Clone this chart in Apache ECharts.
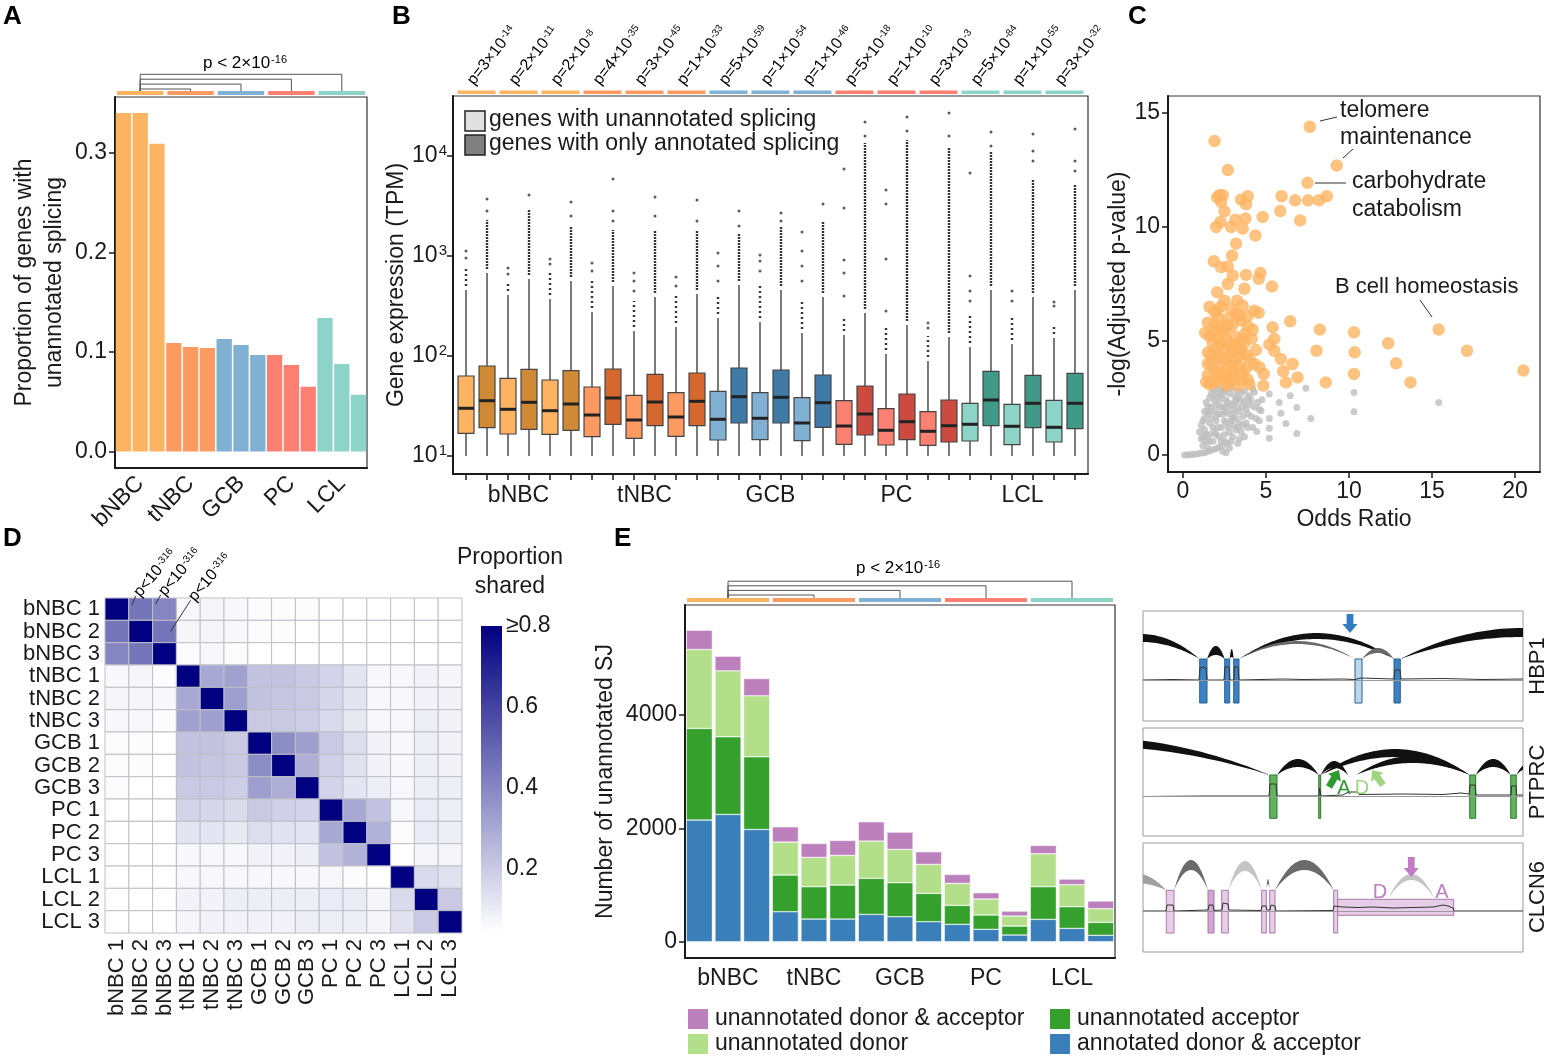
<!DOCTYPE html>
<html lang="en">
<head>
<meta charset="UTF-8">
<title>Unannotated splicing in B cells</title>
<style>
  * { margin: 0; padding: 0; }
  html, body { width: 100%; height: 100%; background: #fff; }
  #main { width: 1548px; height: 1062px; }
</style>
</head>
<body>
<div id="main"></div>
<script src="https://cdn.jsdelivr.net/npm/echarts@6/dist/echarts.min.js"></script>
<script>
var FONT = '"Liberation Sans", Arial, sans-serif';
var INK = '#1a1a1a';

// ---- shared ----
var groups = ['bNBC', 'tNBC', 'GCB', 'PC', 'LCL'];
var samples = ['bNBC 1', 'bNBC 2', 'bNBC 3', 'tNBC 1', 'tNBC 2', 'tNBC 3', 'GCB 1', 'GCB 2', 'GCB 3',
               'PC 1', 'PC 2', 'PC 3', 'LCL 1', 'LCL 2', 'LCL 3'];
var groupColor = ['#FDB462', '#FC9A62', '#80B1D3', '#FB8072', '#8DD3C7'];
var groupDark = ['#D08A35', '#D5682F', '#3F7BA6', '#CC4A40', '#419A87'];

// ---- A: proportion of genes with unannotated splicing ----
var propUnannot = [0.340, 0.340, 0.309, 0.109, 0.105, 0.104, 0.113, 0.107, 0.097, 0.097, 0.087, 0.065, 0.134, 0.088, 0.057];
var groupComparisons = [[1, 4], [1, 7], [1, 10], [1, 13]];   // bNBC vs each group (sample index of group centre)

// ---- B: gene expression boxes, log10(TPM); 30 boxes = 15 samples x (unannotated, only annotated) ----
var boxLo  = [1.00, 1.00, 1.00, 1.00, 1.00, 1.00, 1.00, 1.00, 1.00, 1.00, 1.00, 1.00, 1.00, 1.00, 1.00,
              1.00, 1.00, 1.00, 1.00, 1.00, 1.00, 1.00, 1.00, 1.00, 1.00, 1.00, 1.00, 1.00, 1.00, 1.00];
var boxQ1  = [1.227, 1.283, 1.220, 1.267, 1.217, 1.257, 1.193, 1.317, 1.177, 1.303, 1.197, 1.303, 1.160, 1.330, 1.163,
              1.330, 1.153, 1.287, 1.117, 1.210, 1.110, 1.163, 1.107, 1.140, 1.150, 1.303, 1.113, 1.283, 1.140, 1.273];
var boxMed = [1.477, 1.553, 1.467, 1.537, 1.453, 1.520, 1.410, 1.580, 1.360, 1.540, 1.390, 1.547, 1.367, 1.593, 1.377,
              1.587, 1.330, 1.533, 1.300, 1.420, 1.257, 1.343, 1.247, 1.303, 1.317, 1.560, 1.297, 1.527, 1.287, 1.527];
var boxQ3  = [1.800, 1.900, 1.777, 1.867, 1.760, 1.853, 1.690, 1.870, 1.607, 1.817, 1.633, 1.830, 1.647, 1.880, 1.633,
              1.860, 1.583, 1.810, 1.553, 1.700, 1.473, 1.620, 1.443, 1.560, 1.527, 1.847, 1.517, 1.807, 1.557, 1.827];
var boxHi  = [2.66, 2.83, 2.61, 2.77, 2.57, 2.75, 2.44, 2.70, 2.25, 2.59, 2.29, 2.62, 2.38, 2.71, 2.34,
              2.66, 2.23, 2.59, 2.21, 2.43, 2.02, 2.31, 1.95, 2.19, 2.09, 2.66, 2.12, 2.59, 2.18, 2.66];
var outDenseTop = [2.90, 3.36, 2.75, 3.46, 2.85, 3.29, 2.75, 3.26, 2.55, 3.26, 2.60, 3.26, 2.60, 3.22, 2.70,
                   3.29, 2.55, 3.34, 2.40, 4.13, 2.30, 4.16, 2.20, 4.09, 2.40, 4.04, 2.40, 3.76, 2.30, 3.71];
var outSparse = [[2.98, 3.05], [3.45, 3.57], [2.82, 2.88], [3.61], [2.92, 2.97], [3.40, 3.54], [2.85, 2.93],
                 [3.35, 3.45, 3.77], [2.65, 2.75, 2.83], [3.40, 3.59], [2.70, 2.79], [3.35, 3.56], [2.75, 2.90, 3.03],
                 [3.30, 3.45], [2.85, 2.95, 3.01], [3.35, 3.43], [2.75, 2.90, 3.05, 3.24], [3.52],
                 [2.60, 2.83, 2.96, 3.48, 3.87], [4.20, 4.34], [2.45, 2.97, 3.52, 3.66], [4.25, 4.39], [2.28, 2.33],
                 [4.20, 4.43], [2.55, 2.65, 2.80, 3.83], [4.10, 4.24], [2.55, 2.65], [3.95, 4.05, 4.22], [2.50, 2.54],
                 [3.85, 3.95, 4.27]];
var pMant = ['3', '2', '2', '4', '3', '1', '5', '1', '1', '5', '1', '3', '5', '1', '3'];
var pExp = ['-14', '-11', '-8', '-35', '-45', '-33', '-59', '-54', '-46', '-18', '-10', '-3', '-84', '-55', '-32'];

// ---- C: GO enrichment, [odds ratio, -log(adj p)] ----
var goSignificant = [
  [7.64, 14.4], [1.9, 13.77], [9.26, 12.7], [2.7, 12.5], [7.5, 11.94], [2.2, 11.4], [2.4, 11.4], [2.06, 11.3],
  [2.3, 11.1], [3.5, 11.2], [3.9, 11.35], [3.8, 11.0], [5.94, 11.35], [6.76, 11.17], [7.54, 11.17], [8.2, 11.17],
  [8.66, 11.35], [5.86, 10.7], [2.5, 10.69], [4.8, 10.44], [7.06, 10.29], [2.26, 10.22], [2.0, 10.0], [3.16, 10.32],
  [2.9, 10.0], [3.76, 10.37], [3.6, 9.93], [4.36, 9.63], [3.2, 9.27], [2.96, 8.75], [1.86, 8.5], [2.3, 8.24],
  [2.7, 8.27], [3.0, 7.87], [3.8, 7.9], [4.66, 7.98], [4.56, 7.73], [2.7, 7.5], [5.36, 7.39], [3.7, 7.29],
  [2.06, 7.14], [2.5, 6.77], [2.3, 6.52], [3.26, 6.77], [3.6, 6.55], [2.06, 6.33], [1.9, 6.29], [4.3, 6.33],
  [4.56, 6.23], [3.2, 6.19], [3.4, 6.11], [6.46, 5.86], [5.4, 5.6], [8.24, 5.5], [10.3, 5.38], [15.4, 5.5],
  [1.34, 5.35], [1.9, 5.75], [2.3, 5.6], [2.7, 5.7], [2.96, 5.68], [3.9, 5.65], [3.7, 5.3], [4.14, 5.1],
  [5.5, 5.09], [12.36, 4.9], [5.2, 4.85], [5.5, 4.57], [8.04, 4.57], [10.34, 4.5], [17.1, 4.57], [5.9, 4.21],
  [6.6, 3.99], [12.84, 4.02], [4.3, 3.99], [4.6, 3.85], [4.86, 3.55], [6.04, 3.67], [6.9, 3.4], [10.3, 3.55],
  [20.5, 3.7], [6.2, 3.18], [4.84, 3.04], [8.6, 3.18], [13.7, 3.18],
  [1.6, 5.2], [1.8, 4.9], [2.0, 4.6], [2.2, 4.3], [1.7, 4.0], [1.9, 3.7], [2.1, 3.4], [1.6, 3.1], [2.4, 5.4],
  [2.6, 5.1], [2.8, 4.8], [3.0, 4.5], [2.5, 4.2], [2.7, 3.9], [2.9, 3.6], [2.4, 3.3], [2.6, 3.05], [3.1, 5.2],
  [3.3, 4.9], [3.5, 4.6], [3.2, 4.2], [3.4, 3.9], [3.6, 3.6], [3.1, 3.3], [3.3, 3.05], [3.8, 4.4], [3.9, 3.3],
  [4.0, 3.1], [1.5, 4.5], [1.5, 3.5], [2.0, 5.4], [2.2, 3.8], [2.8, 3.2], [3.0, 3.9], [3.7, 4.9], [1.8, 3.2],
  [2.3, 4.95], [2.1, 6.0], [2.7, 6.0], [3.5, 5.9], [2.9, 6.4], [3.9, 6.1], [1.5, 5.8], [1.4, 3.2], [1.6, 6.5],
  [4.4, 4.6], [4.0, 4.2], [4.2, 5.5], [1.7, 4.4], [2.0, 3.2], [2.3, 3.6], [2.5, 4.6], [2.8, 4.3], [3.1, 4.8],
  [3.4, 4.4], [3.6, 5.1], [1.8, 5.4], [2.1, 5.1], [2.6, 5.6], [3.0, 3.5], [3.8, 3.8], [3.5, 3.3], [2.2, 4.8],
  [1.5, 4.0], [1.9, 4.2], [2.7, 3.4]
];
var goOther = [
  [5.2, 2.67], [5.8, 2.3], [6.46, 2.6], [7.4, 2.93], [10.3, 2.74], [10.3, 1.89], [15.4, 2.3], [7.7, 1.6],
  [6.86, 2.08], [6.2, 1.38], [6.86, 0.94], [5.2, 0.73], [5.2, 1.17], [5.2, 1.6], [5.9, 1.83], [4.6, 1.5],
  [4.44, 1.03], [4.7, 1.94], [4.5, 2.3], [4.76, 2.42], [4.3, 2.75], [4.0, 2.6], [3.9, 1.2], [3.7, 0.8],
  [3.3, 0.5], [2.8, 0.3], [2.4, 0.15], [0.1, 0], [0.3, 0], [0.5, 0.02], [0.7, 0.03], [0.9, 0.05], [1.1, 0.08],
  [1.3, 0.1], [1.5, 0.15], [1.7, 0.2], [1.9, 0.25], [2.2, 0.35], [2.6, 0.1],
  [1.2, 0.4], [1.4, 0.6], [1.6, 0.9], [1.8, 1.2], [2.0, 1.5], [1.5, 1.8], [1.7, 2.1], [1.9, 2.4], [2.1, 2.7],
  [1.3, 1.1], [1.1, 0.7], [2.3, 0.6], [2.5, 0.9], [2.7, 1.2], [2.2, 1.8], [2.4, 2.1], [2.6, 2.4], [2.8, 2.7],
  [2.0, 0.9], [2.9, 1.5], [3.1, 1.8], [3.3, 2.1], [3.5, 2.4], [3.0, 0.8], [3.2, 1.1], [3.4, 1.4], [3.6, 1.7],
  [3.8, 2.0], [3.1, 2.6], [3.7, 2.8], [4.0, 2.2], [4.1, 1.7], [3.9, 2.5], [2.3, 1.2], [2.5, 1.5], [1.6, 1.4],
  [1.8, 0.6], [2.7, 0.5], [3.5, 1.0], [1.4, 2.3], [1.2, 1.5], [2.2, 2.4], [2.9, 2.2], [3.3, 2.8], [2.0, 2.9],
  [1.7, 2.7], [2.5, 2.85], [3.6, 2.1], [4.2, 2.9], [1.0, 1.0], [1.3, 1.9], [2.1, 0.3], [2.6, 1.9], [3.0, 1.3],
  [3.4, 0.7], [2.4, 0.4], [1.5, 0.3], [1.9, 1.9], [2.8, 1.0], [3.2, 2.4], [3.8, 1.4], [4.2, 1.2], [1.6, 2.5],
  [2.3, 2.6], [2.0, 2.2], [1.1, 1.3], [1.3, 1.6], [1.5, 2.1], [1.7, 1.6], [1.9, 1.0], [2.1, 1.2], [2.2, 2.1],
  [2.4, 1.8], [2.6, 2.1], [2.8, 1.8], [3.0, 2.0], [3.2, 1.6], [3.4, 1.9], [3.5, 2.7], [2.7, 2.3], [2.9, 2.9],
  [3.1, 2.3], [1.8, 2.9], [2.3, 2.9], [2.5, 0.6], [2.9, 0.6], [3.3, 1.2], [3.6, 1.3], [3.9, 1.8], [4.1, 2.4],
  [4.3, 2.1], [1.4, 0.9], [1.6, 0.6], [1.2, 0.8], [2.0, 1.7], [2.6, 1.4], [3.0, 1.6], [2.2, 0.8], [3.7, 2.3],
  [4.4, 1.6], [4.6, 2.0], [2.4, 2.7], [1.9, 2.6], [1.6, 1.9], [3.3, 2.5]
];

// ---- D: proportion of unannotated SJ shared between samples ----
var shared = [
  [1.00, 0.45, 0.40, 0.06, 0.07, 0.06, 0.05, 0.05, 0.05, 0.04, 0.03, 0.02, 0.04, 0.03, 0.02],
  [0.45, 1.00, 0.45, 0.07, 0.07, 0.06, 0.05, 0.05, 0.04, 0.04, 0.03, 0.01, 0.04, 0.03, 0.02],
  [0.40, 0.45, 1.00, 0.05, 0.06, 0.05, 0.04, 0.04, 0.04, 0.03, 0.02, 0.01, 0.03, 0.03, 0.02],
  [0.06, 0.07, 0.05, 1.00, 0.30, 0.32, 0.22, 0.22, 0.20, 0.17, 0.12, 0.06, 0.06, 0.08, 0.07],
  [0.07, 0.07, 0.06, 0.30, 1.00, 0.33, 0.22, 0.21, 0.20, 0.16, 0.12, 0.06, 0.06, 0.08, 0.08],
  [0.06, 0.06, 0.05, 0.32, 0.33, 1.00, 0.20, 0.20, 0.19, 0.15, 0.11, 0.06, 0.06, 0.09, 0.08],
  [0.05, 0.05, 0.04, 0.22, 0.22, 0.20, 1.00, 0.38, 0.33, 0.20, 0.14, 0.08, 0.06, 0.09, 0.08],
  [0.05, 0.05, 0.04, 0.22, 0.21, 0.20, 0.38, 1.00, 0.28, 0.18, 0.13, 0.08, 0.06, 0.09, 0.08],
  [0.05, 0.04, 0.04, 0.20, 0.20, 0.19, 0.33, 0.28, 1.00, 0.17, 0.12, 0.09, 0.06, 0.09, 0.09],
  [0.04, 0.04, 0.03, 0.17, 0.16, 0.15, 0.20, 0.18, 0.17, 1.00, 0.30, 0.22, 0.06, 0.10, 0.09],
  [0.03, 0.03, 0.02, 0.12, 0.12, 0.11, 0.14, 0.13, 0.12, 0.30, 1.00, 0.27, 0.05, 0.10, 0.09],
  [0.02, 0.01, 0.01, 0.06, 0.06, 0.06, 0.08, 0.08, 0.09, 0.22, 0.27, 1.00, 0.04, 0.07, 0.07],
  [0.04, 0.04, 0.03, 0.06, 0.06, 0.06, 0.06, 0.06, 0.06, 0.06, 0.05, 0.04, 1.00, 0.15, 0.13],
  [0.03, 0.03, 0.03, 0.08, 0.08, 0.09, 0.09, 0.09, 0.09, 0.10, 0.10, 0.07, 0.15, 1.00, 0.20],
  [0.02, 0.02, 0.02, 0.07, 0.08, 0.08, 0.08, 0.08, 0.09, 0.09, 0.09, 0.07, 0.13, 0.20, 1.00]
];
var sharedAnnotCells = [[1, 0], [2, 0], [2, 1]];   // [column, row] with p<10^-316
var shareTicks = [0.2, 0.4, 0.6, 0.8];

// ---- E: number of unannotated splice junctions by type ----
var sjAnnotated = [2147, 2247, 1982, 529, 400, 400, 482, 441, 353, 306, 218, 118, 394, 235, 112];
var sjAcceptor  = [1618, 1371, 1283, 647, 571, 600, 636, 600, 500, 335, 253, 158, 577, 383, 229];
var sjDonor     = [1394, 1164, 1076, 583, 517, 524, 658, 588, 512, 388, 282, 177, 582, 388, 241];
var sjBoth      = [341, 259, 306, 270, 247, 264, 342, 306, 223, 159, 112, 88, 147, 100, 136];
var sjNames = ['annotated donor & acceptor', 'unannotated acceptor', 'unannotated donor', 'unannotated donor & acceptor'];
var sjColors = ['#3A7EBA', '#35A02C', '#B3DF8A', '#BC80BD'];

// ---- E right: sashimi sketches (x: position along locus, y: track height) ----
var geneNames = ['HBP1', 'PTPRC', 'CLCN6'];
var hbp1Exons = [[56.7, 64, 18, 62, 0], [81.7, 86.7, 18, 62, 0], [90.7, 96, 18, 62, 0], [212, 219, 18, 62, 1], [251, 257.3, 18, 62, 0]];
var hbp1Arcs = [[-60, 56.7, 62, 79, 8, 0], [64, 81.7, 62, 66, 9, 0], [86.7, 90.7, 62, 64, 8, 0], [96, 251, 62, 82, 6, 0],
                [96, 212, 62, 77, 3, 1], [219, 251, 62, 68, 5, 1], [257.3, 500, 62, 84, 9, 0]];
var hbp1Cov = [[0, 41], [30, 41.5], [56, 41], [57, 53], [60, 54], [63, 53], [64, 41], [81, 41], [82, 54], [86, 54], [87, 41],
               [91, 41], [91.5, 54], [95, 54], [96, 41], [140, 42], [160, 41.5], [200, 42], [212, 41.5], [213, 43], [218, 43],
               [219, 41.5], [251, 42], [252, 51], [257, 51], [258, 42], [300, 42.5], [340, 41.5], [380, 42]];
var hbp1Arrows = [[207, 107, 207, 88, 0]];
var hbp1Marks = [];

var ptprcExons = [[126.7, 134, 17.7, 61, 0], [175.7, 177.7, 17.7, 61, 0], [326.7, 332.7, 17.7, 61, 0], [367.7, 373.3, 17.7, 61, 0]];
var ptprcArcs = [[-240, 126.7, 61, 90, 9, 0], [134, 175.7, 61, 69, 8, 0], [177.7, 326.7, 61, 79, 8, 0], [177.7, 205, 61, 68, 7, 0],
                 [213, 326.7, 61, 73, 7, 0], [332.7, 367.7, 61, 69, 8, 0], [373.3, 395, 61, 67, 5, 0]];
var ptprcCov = [[0, 39.5], [60, 40], [126, 40], [127, 52], [133, 52], [134, 40], [176, 40], [176.5, 48], [177.5, 48], [178, 40],
                [200, 41], [205, 44], [215, 44], [216, 41.5], [260, 42], [300, 41.5], [318, 43], [326, 42], [327, 51], [332, 51],
                [333, 41], [368, 41], [368.5, 50], [373, 50], [373.5, 41], [380, 41]];
var ptprcArrows = [[186, 49, 196, 66, 1], [240, 51, 229, 66, 2]];
var ptprcMarks = [[201, 48, 0, 1], [219, 48, 1, 2]];

var clcn6Exons = [[23.3, 31, 19, 61.7, 0], [65, 71, 19, 61.7, 1], [78.7, 85.3, 19, 61.7, 0], [118.7, 123.3, 19, 61.7, 0],
                  [126.7, 132, 19, 61.7, 0], [190.7, 194.7, 19, 61.7, 0], [194.7, 310.7, 36.7, 52.7, 0]];
var clcn6Arcs = [[-40, 23.3, 61.7, 69, 10, 2], [31, 65, 61.7, 82, 10, 1], [85.3, 118.7, 61.7, 81, 10, 3], [123.3, 126.7, 61.7, 68, 5, 1],
                 [132, 190.7, 61.7, 82, 10, 1], [245, 291.7, 52.7, 72, 6, 3]];
var clcn6Cov = [[0, 41], [23, 41], [24, 47], [30, 47], [31, 41], [65, 42], [66, 47], [70, 47], [71, 41.5], [79, 42], [80, 49],
                [85, 48], [86, 42], [118, 41.5], [119, 46], [123, 46], [124, 42], [127, 42], [128, 47], [132, 46], [133, 41],
                [190, 41.5], [191, 46], [200, 45], [215, 44.5], [230, 45], [250, 44], [270, 44.5], [290, 45], [300, 47],
                [305, 46], [310, 44], [311, 41], [380, 41]];
var clcn6Arrows = [[268.3, 95, 268.3, 75, 3]];
var clcn6Marks = [[237, 60, 1, 3], [299, 60, 0, 3]];

var markLabels = ['A', 'D'];
var arrowColors = ['#2F7EC2', '#2E9B2E', '#9ED57E', '#C07CC4'];
var exonFill = [['#3C82C2', '#BCD7EC'], ['#62B35F'], ['#E8CDE8', '#D2A6D2']];
var exonStroke = ['#285F93', '#2D7A2B', '#A57BA5'];
var arcShade = ['#111111', '#6a6a6a', '#a0a0a0', '#c4c4c4'];
var geneBase = [41, 40, 41];

var chart = echarts.init(document.getElementById('main'));

// ---------- helpers ----------
function supRich(size) {
  return {
    n: { fontSize: size, fontFamily: FONT, color: INK },
    s: { fontSize: Math.round(size * 0.65), fontFamily: FONT, color: INK, verticalAlign: 'top', padding: [0, 0, 0, 1] }
  };
}
// superscript for axis tick labels: raise via bottom padding
var axisSupRich = {
  n: { fontSize: 23, fontFamily: FONT, color: INK, lineHeight: 26 },
  s: { fontSize: 15, fontFamily: FONT, color: INK, lineHeight: 15, padding: [0, 0, 11, 1], verticalAlign: 'bottom' }
};
function shareColor(v) {
  var f = Math.max(0, Math.min(1, (v - 0.04) / 0.76));
  var r = Math.round(255 * (1 - f));
  var b = Math.round(255 - 127 * f);
  return 'rgb(' + r + ',' + r + ',' + b + ')';
}
function frameGrid(left, top, width, height) {
  return { left: left, top: top, width: width, height: height, show: true, borderColor: '#333', borderWidth: 1.2,
           backgroundColor: 'transparent', containLabel: false, outerBoundsMode: 'none' };
}
function plainGrid(left, top, width, height) {
  return { left: left, top: top, width: width, height: height, show: false, containLabel: false, outerBoundsMode: 'none' };
}
function hiddenAxis(gi, type, min, max, inverse, data) {
  var a = { type: type, gridIndex: gi, show: false, inverse: !!inverse, splitLine: { show: false } };
  if (type === 'value') { a.min = min; a.max = max; } else { a.data = data; }
  return a;
}
var lineStyleAxis = { color: INK, width: 2 };
var tickStyle = { color: INK, width: 1.5 };

// group strips + comparison brackets for category axes
function stripSeries(xi, yi, stripTop, stripBottom) {
  var spans = groups.map(function (g, k) { return [k * 3, k * 3 + 2, k]; });
  return {
    type: 'custom', xAxisIndex: xi, yAxisIndex: yi, data: spans, silent: true,
    renderItem: function (params, api) {
      var band = api.size([1, 0])[0];
      var a = api.coord([api.value(0), stripTop]);
      var b = api.coord([api.value(1), stripBottom]);
      return { type: 'rect', shape: { x: a[0] - band / 2 + 2, y: a[1], width: b[0] - a[0] + band - 4, height: b[1] - a[1] },
               style: { fill: groupColor[api.value(2)] } };
    }
  };
}
function bracketSeries(xi, yi, stripTop, level0, step) {
  return {
    type: 'custom', xAxisIndex: xi, yAxisIndex: yi, data: groupComparisons, silent: true,
    renderItem: function (params, api) {
      var lv = level0 - params.dataIndex * step;
      var p0 = api.coord([api.value(0), stripTop]), p1 = api.coord([api.value(0), lv]);
      var p2 = api.coord([api.value(1), lv]), p3 = api.coord([api.value(1), stripTop]);
      return { type: 'polyline', shape: { points: [p0, p1, p2, p3] }, style: { stroke: '#555', lineWidth: 1, fill: null } };
    }
  };
}

// ---------- B data items ----------
var boxItems = boxQ1.map(function (q, i) {
  return [i, boxLo[i], q, boxMed[i], boxQ3[i], boxHi[i], Math.floor(i / 6), i % 2];
});
var denseItems = boxHi.map(function (h, i) { return [i, h + 0.04, outDenseTop[i], i % 2]; });
var sparseItems = [];
outSparse.forEach(function (list, i) { list.forEach(function (v) { sparseItems.push([i, v]); }); });
var pItems = pMant.map(function (m, s) { return [s * 2 + 0.5, s]; });
var bStripItems = pMant.map(function (m, s) { return [s * 2 - 0.5, s * 2 + 1.5, Math.floor(s / 3)]; });

// ---------- D data items ----------
var heatItems = [];
shared.forEach(function (row, r) { row.forEach(function (v, c) { heatItems.push([c, r, v]); }); });
var annotOffsets = [[[3, 7], [7, -2]], [[3, 6], [8, -3]], [[18, 11], [38, -20]]];

// ---------- sashimi series builders ----------
function sashimiSeries(g, exons, arcs, cov, arrows, marks) {
  var xi = 9 + g, yi = 9 + g;
  return [
    {
      type: 'custom', xAxisIndex: xi, yAxisIndex: yi, data: exons, silent: true, z: 2,
      renderItem: function (params, api) {
        var a = api.coord([api.value(0), api.value(3)]), b = api.coord([api.value(1), api.value(2)]);
        return { type: 'rect', shape: { x: a[0], y: a[1], width: b[0] - a[0], height: b[1] - a[1] },
                 style: { fill: exonFill[g][api.value(4)], stroke: exonStroke[g], lineWidth: 1 } };
      }
    },
    {
      type: 'custom', xAxisIndex: xi, yAxisIndex: yi, data: arcs, silent: true, clip: true, z: 3,
      renderItem: function (params, api) {
        var x1 = api.value(0), x2 = api.value(1), base = api.value(2), peak = api.value(3), th = api.value(4);
        var bot = [], top = [];
        for (var k = 0; k <= 48; k++) {
          var t = k / 48, x = x1 + (x2 - x1) * t, f = 4 * t * (1 - t);
          bot.push(api.coord([x, base + (peak - base) * f]));
          top.push(api.coord([x, base + (peak - base) * f + th * f]));
        }
        return { type: 'polygon', shape: { points: bot.concat(top.reverse()) }, style: { fill: arcShade[api.value(5)] } };
      }
    },
    {
      type: 'line', xAxisIndex: xi, yAxisIndex: yi, data: cov, symbol: 'none', silent: true, z: 4,
      lineStyle: { color: '#333', width: 1 },
      markLine: { silent: true, symbol: 'none', label: { show: false }, lineStyle: { color: '#999', width: 1, type: 'solid' },
                  data: [{ yAxis: geneBase[g] }] }
    },
    {
      type: 'custom', xAxisIndex: xi, yAxisIndex: yi, data: arrows, silent: true, z: 5,
      renderItem: function (params, api) {
        var p1 = api.coord([api.value(0), api.value(1)]), p2 = api.coord([api.value(2), api.value(3)]);
        var dx = p2[0] - p1[0], dy = p2[1] - p1[1], L = Math.sqrt(dx * dx + dy * dy);
        var ux = dx / L, uy = dy / L, nx = -uy, ny = ux, hl = 9, sw = 3.4, hw = 7.5;
        var bx = p2[0] - ux * hl, by = p2[1] - uy * hl;
        var pts = [[p1[0] + nx * sw, p1[1] + ny * sw], [bx + nx * sw, by + ny * sw], [bx + nx * hw, by + ny * hw], [p2[0], p2[1]],
                   [bx - nx * hw, by - ny * hw], [bx - nx * sw, by - ny * sw], [p1[0] - nx * sw, p1[1] - ny * sw]];
        return { type: 'polygon', shape: { points: pts }, style: { fill: arrowColors[api.value(4)] } };
      }
    },
    {
      type: 'custom', xAxisIndex: xi, yAxisIndex: yi, data: marks, silent: true, z: 5,
      renderItem: function (params, api) {
        var p = api.coord([api.value(0), api.value(1)]);
        return { type: 'text', x: p[0], y: p[1],
                 style: { text: markLabels[api.value(2)], fill: arrowColors[api.value(3)], fontSize: 20, fontFamily: FONT,
                          align: 'center', verticalAlign: 'middle' } };
      }
    }
  ];
}

// ---------- option ----------
var grids = [
  frameGrid(115, 97, 252, 371),      // 0 A
  plainGrid(115, 55, 252, 42),       // 1 A strips
  frameGrid(453, 96, 635, 378),      // 2 B
  plainGrid(453, 20, 635, 76),       // 3 B strips
  frameGrid(1168, 96, 372, 376),     // 4 C
  plainGrid(105, 598, 357, 335),     // 5 D heatmap
  plainGrid(481, 626, 21, 306),      // 6 D colour bar
  frameGrid(685, 605, 430, 353),     // 7 E
  plainGrid(685, 555, 430, 50),      // 8 E strips
  { left: 1143, top: 611, width: 380, height: 110, show: true, borderColor: '#999', borderWidth: 1, containLabel: false, outerBoundsMode: 'none' },
  { left: 1143, top: 728, width: 380, height: 108, show: true, borderColor: '#999', borderWidth: 1, containLabel: false, outerBoundsMode: 'none' },
  { left: 1143, top: 843, width: 380, height: 109, show: true, borderColor: '#999', borderWidth: 1, containLabel: false, outerBoundsMode: 'none' }
];

var catLabelFmt = function (v, i) { return i % 3 === 1 ? groups[Math.floor(i / 3)] : ''; };
var plainNum = function (v) { return String(v); };

var xAxes = [
  { type: 'category', gridIndex: 0, data: samples, axisLine: { onZero: false, lineStyle: lineStyleAxis },
    axisTick: { alignWithLabel: true, interval: 0, length: 6, lineStyle: tickStyle },
    axisLabel: { interval: 0, rotate: 45, fontSize: 23, color: INK, fontFamily: FONT, margin: 12, formatter: catLabelFmt } },
  hiddenAxis(1, 'category', 0, 0, false, samples),
  { type: 'value', gridIndex: 2, min: -0.62, max: 29.62, splitLine: { show: false },
    axisLine: { onZero: false, lineStyle: lineStyleAxis },
    axisTick: { show: true, length: 6, lineStyle: tickStyle, customValues: boxQ1.map(function (q, i) { return i; }) },
    axisLabel: { fontSize: 23, color: INK, fontFamily: FONT, margin: 10, customValues: [2.5, 8.5, 14.5, 20.5, 26.5],
                 formatter: function (v) { return groups[Math.round((v - 2.5) / 6)]; } } },
  hiddenAxis(3, 'value', -0.62, 29.62),
  { type: 'value', gridIndex: 4, min: -0.9, max: 21.5, splitLine: { show: false },
    axisLine: { onZero: false, lineStyle: lineStyleAxis },
    axisTick: { show: true, length: 6, lineStyle: tickStyle, customValues: [0, 5, 10, 15, 20] },
    axisLabel: { fontSize: 23, color: INK, fontFamily: FONT, margin: 8, customValues: [0, 5, 10, 15, 20], formatter: plainNum },
    name: 'Odds Ratio', nameLocation: 'middle', nameGap: 36,
    nameTextStyle: { fontSize: 23, color: INK, fontFamily: FONT } },
  { type: 'category', gridIndex: 5, data: samples, axisLine: { show: false }, axisTick: { show: false },
    axisLabel: { interval: 0, rotate: 90, fontSize: 22, color: INK, fontFamily: FONT, margin: 6 } },
  hiddenAxis(6, 'value', 0, 1),
  { type: 'category', gridIndex: 7, data: samples, axisLine: { onZero: false, lineStyle: lineStyleAxis },
    axisTick: { alignWithLabel: true, interval: 0, length: 6, lineStyle: tickStyle },
    axisLabel: { interval: 0, fontSize: 23, color: INK, fontFamily: FONT, margin: 9, formatter: catLabelFmt } },
  hiddenAxis(8, 'category', 0, 0, false, samples),
  hiddenAxis(9, 'value', 0, 380),
  hiddenAxis(10, 'value', 0, 380),
  hiddenAxis(11, 'value', 0, 380)
];

var yAxes = [
  { type: 'value', gridIndex: 0, min: -0.0165, max: 0.356, splitLine: { show: false },
    axisLine: { show: true, onZero: false, lineStyle: lineStyleAxis },
    axisTick: { show: true, length: 6, lineStyle: tickStyle, customValues: [0, 0.1, 0.2, 0.3] },
    axisLabel: { fontSize: 23, color: INK, fontFamily: FONT, margin: 8, customValues: [0, 0.1, 0.2, 0.3],
                 formatter: function (v) { return v.toFixed(1); } },
    name: 'Proportion of genes with\nunannotated splicing', nameLocation: 'middle', nameGap: 45,
    nameTextStyle: { fontSize: 23, color: INK, fontFamily: FONT, lineHeight: 30 } },
  hiddenAxis(1, 'value', 0, 42, true),
  { type: 'value', gridIndex: 2, min: 0.82, max: 4.6, splitLine: { show: false },
    axisLine: { show: true, onZero: false, lineStyle: lineStyleAxis },
    axisTick: { show: true, length: 6, lineStyle: tickStyle, customValues: [1, 2, 3, 4] },
    axisLabel: { margin: 6, customValues: [1, 2, 3, 4], rich: axisSupRich,
                 formatter: function (v) { return '{n|10}{s|' + v + '}'; } },
    name: 'Gene expression (TPM)', nameLocation: 'middle', nameGap: 42,
    nameTextStyle: { fontSize: 23, color: INK, fontFamily: FONT } },
  hiddenAxis(3, 'value', 0, 76, true),
  { type: 'value', gridIndex: 4, min: -0.75, max: 15.75, splitLine: { show: false },
    axisLine: { show: true, onZero: false, lineStyle: lineStyleAxis },
    axisTick: { show: true, length: 6, lineStyle: tickStyle, customValues: [0, 5, 10, 15] },
    axisLabel: { fontSize: 23, color: INK, fontFamily: FONT, margin: 8, customValues: [0, 5, 10, 15], formatter: plainNum },
    name: '-log(Adjusted p-value)', nameLocation: 'middle', nameGap: 32,
    nameTextStyle: { fontSize: 23, color: INK, fontFamily: FONT } },
  { type: 'category', gridIndex: 5, data: samples, inverse: true, axisLine: { show: false }, axisTick: { show: false },
    axisLabel: { interval: 0, fontSize: 22, color: INK, fontFamily: FONT, margin: 5 } },
  { type: 'value', gridIndex: 6, position: 'right', min: 0.044, max: 0.8, splitLine: { show: false },
    axisLine: { show: false }, axisTick: { show: false },
    axisLabel: { fontSize: 23, color: INK, fontFamily: FONT, margin: 4, customValues: shareTicks,
                 formatter: function (v) { return v >= 0.8 ? '≥0.8' : v.toFixed(1); } } },
  { type: 'value', gridIndex: 7, min: -288, max: 5945, splitLine: { show: false },
    axisLine: { show: true, onZero: false, lineStyle: lineStyleAxis },
    axisTick: { show: true, length: 6, lineStyle: tickStyle, customValues: [0, 2000, 4000] },
    axisLabel: { fontSize: 23, color: INK, fontFamily: FONT, margin: 8, customValues: [0, 2000, 4000], formatter: plainNum },
    name: 'Number of unannotated SJ', nameLocation: 'middle', nameGap: 68,
    nameTextStyle: { fontSize: 23, color: INK, fontFamily: FONT } },
  hiddenAxis(8, 'value', 0, 50, true),
  hiddenAxis(9, 'value', 0, 110),
  hiddenAxis(10, 'value', 0, 108),
  hiddenAxis(11, 'value', 0, 109)
];

var series = [
  // A
  { type: 'bar', xAxisIndex: 0, yAxisIndex: 0, barCategoryGap: '9%',
    data: propUnannot.map(function (v, i) { return { value: v, itemStyle: { color: groupColor[Math.floor(i / 3)] } }; }) },
  stripSeries(1, 1, 36, 40),
  bracketSeries(1, 1, 36, 34, 4.9),
  // B outliers
  { type: 'custom', xAxisIndex: 2, yAxisIndex: 2, data: denseItems, silent: true,
    renderItem: function (params, api) {
      var a = api.coord([api.value(0), api.value(1)]), b = api.coord([api.value(0), api.value(2)]);
      return { type: 'line', shape: { x1: a[0], y1: a[1], x2: b[0], y2: b[1] },
               style: { stroke: '#333', lineWidth: 2.4, lineDash: api.value(3) ? [2, 1] : [2, 3] } };
    } },
  { type: 'scatter', xAxisIndex: 2, yAxisIndex: 2, data: sparseItems, symbol: 'circle', symbolSize: 3,
    itemStyle: { color: '#333' }, silent: true },
  // B boxes
  { type: 'custom', xAxisIndex: 2, yAxisIndex: 2, data: boxItems, silent: true,
    renderItem: function (params, api) {
      var x = api.value(0), w = api.size([0.76, 0])[0];
      var lo = api.coord([x, api.value(1)]), q1 = api.coord([x, api.value(2)]), md = api.coord([x, api.value(3)]);
      var q3 = api.coord([x, api.value(4)]), hi = api.coord([x, api.value(5)]);
      var g = api.value(6), dark = api.value(7);
      return { type: 'group', children: [
        { type: 'line', shape: { x1: lo[0], y1: lo[1], x2: hi[0], y2: hi[1] }, style: { stroke: '#333', lineWidth: 1.3 } },
        { type: 'rect', shape: { x: q1[0] - w / 2, y: q3[1], width: w, height: q1[1] - q3[1] },
          style: { fill: dark ? groupDark[g] : groupColor[g], stroke: '#444', lineWidth: 1.2 } },
        { type: 'line', shape: { x1: md[0] - w / 2, y1: md[1], x2: md[0] + w / 2, y2: md[1] }, style: { stroke: '#222', lineWidth: 3 } }
      ] };
    } },
  // B strips + p-values
  { type: 'custom', xAxisIndex: 3, yAxisIndex: 3, data: bStripItems, silent: true,
    renderItem: function (params, api) {
      var a = api.coord([api.value(0), 70.5]), b = api.coord([api.value(1), 74]);
      return { type: 'rect', shape: { x: a[0] + 2, y: a[1], width: b[0] - a[0] - 4, height: b[1] - a[1] },
               style: { fill: groupColor[api.value(2)] } };
    } },
  { type: 'custom', xAxisIndex: 3, yAxisIndex: 3, data: pItems, silent: true,
    renderItem: function (params, api) {
      var p = api.coord([api.value(0), 63]);
      var s = api.value(1);
      return { type: 'text', x: p[0] - 6, y: p[1], rotation: 52 * Math.PI / 180,
               style: { text: '{n|p=' + pMant[s] + '×10}{s|' + pExp[s] + '}', rich: supRich(16), align: 'left', verticalAlign: 'middle' } };
    } },
  // C
  { type: 'scatter', xAxisIndex: 4, yAxisIndex: 4, data: goOther, symbolSize: 7, itemStyle: { color: '#BEBEBE' }, silent: true },
  { type: 'scatter', xAxisIndex: 4, yAxisIndex: 4, data: goSignificant, symbolSize: 12.5, itemStyle: { color: '#FDB462' }, silent: true },
  // D heatmap
  { type: 'custom', xAxisIndex: 5, yAxisIndex: 5, data: heatItems, silent: true,
    renderItem: function (params, api) {
      var p = api.coord([api.value(0), api.value(1)]), sz = api.size([1, 1]);
      return { type: 'rect', shape: { x: p[0] - sz[0] / 2, y: p[1] - sz[1] / 2, width: sz[0], height: sz[1] },
               style: { fill: shareColor(api.value(2)), stroke: '#BFBFC6', lineWidth: 1 } };
    } },
  { type: 'custom', xAxisIndex: 5, yAxisIndex: 5, data: sharedAnnotCells, silent: true, z: 5,
    renderItem: function (params, api) {
      var p = api.coord([api.value(0), api.value(1)]), sz = api.size([1, 1]);
      var cx = p[0] - sz[0] / 2, cy = p[1] - sz[1] / 2, o = annotOffsets[params.dataIndex];
      return { type: 'group', children: [
        { type: 'line', shape: { x1: cx + o[0][0], y1: cy + o[0][1], x2: cx + o[1][0], y2: cy + o[1][1] }, style: { stroke: '#333', lineWidth: 1 } },
        { type: 'text', x: cx + o[1][0] + 1, y: cy + o[1][1] - 1, rotation: 50 * Math.PI / 180,
          style: { text: '{n|p<10}{s|-316}', rich: supRich(16), align: 'left', verticalAlign: 'middle' } }
      ] };
    } },
  // D colour bar
  { type: 'custom', xAxisIndex: 6, yAxisIndex: 6, data: [[0, 1, 0.044, 0.8]], silent: true,
    renderItem: function (params, api) {
      var a = api.coord([api.value(0), api.value(3)]), b = api.coord([api.value(1), api.value(2)]);
      return { type: 'rect', shape: { x: a[0], y: a[1], width: b[0] - a[0], height: b[1] - a[1] },
               style: { fill: { type: 'linear', x: 0, y: 1, x2: 0, y2: 0, colorStops: [{ offset: 0, color: '#FFFFFF' }, { offset: 1, color: '#000080' }] } } };
    } },
  // E
  { type: 'bar', name: sjNames[0], stack: 'sj', xAxisIndex: 7, yAxisIndex: 7, data: sjAnnotated, barCategoryGap: '9%',
    itemStyle: { color: sjColors[0], borderColor: '#fff', borderWidth: 0.5 } },
  { type: 'bar', name: sjNames[1], stack: 'sj', xAxisIndex: 7, yAxisIndex: 7, data: sjAcceptor,
    itemStyle: { color: sjColors[1], borderColor: '#fff', borderWidth: 0.5 } },
  { type: 'bar', name: sjNames[2], stack: 'sj', xAxisIndex: 7, yAxisIndex: 7, data: sjDonor,
    itemStyle: { color: sjColors[2], borderColor: '#fff', borderWidth: 0.5 } },
  { type: 'bar', name: sjNames[3], stack: 'sj', xAxisIndex: 7, yAxisIndex: 7, data: sjBoth,
    itemStyle: { color: sjColors[3], borderColor: '#fff', borderWidth: 0.5 } },
  stripSeries(8, 8, 43, 47),
  bracketSeries(8, 8, 43, 40, 4.6)
];

series = series
  .concat(sashimiSeries(0, hbp1Exons, hbp1Arcs, hbp1Cov, hbp1Arrows, hbp1Marks))
  .concat(sashimiSeries(1, ptprcExons, ptprcArcs, ptprcCov, ptprcArrows, ptprcMarks))
  .concat(sashimiSeries(2, clcn6Exons, clcn6Arcs, clcn6Cov, clcn6Arrows, clcn6Marks));

// ---------- static text ----------
function letter(x, y, t) {
  return { type: 'text', x: x, y: y, style: { text: t, fontSize: 26, fontWeight: 'bold', fontFamily: FONT, fill: '#000' } };
}
function label(x, y, t, size, align, rot) {
  return { type: 'text', x: x, y: y, rotation: rot || 0,
           style: { text: t, fontSize: size, fontFamily: FONT, fill: INK, align: align || 'left', verticalAlign: 'middle' } };
}
function leader(x1, y1, x2, y2) {
  return { type: 'line', shape: { x1: x1, y1: y1, x2: x2, y2: y2 }, style: { stroke: '#333', lineWidth: 1 } };
}
function swatch(x, y, fill, stroke) {
  return { type: 'rect', shape: { x: x, y: y, width: 20, height: 20 }, style: { fill: fill, stroke: stroke || null, lineWidth: 1.5 } };
}

var graphics = [
  letter(3, 4, 'A'), letter(392, 4, 'B'), letter(1128, 4, 'C'), letter(3, 526, 'D'), letter(614, 526, 'E'),
  { type: 'text', x: 245, y: 63, style: { text: '{n|p < 2×10}{s|-16}', rich: supRich(17), align: 'center', verticalAlign: 'middle' } },
  { type: 'text', x: 898, y: 568, style: { text: '{n|p < 2×10}{s|-16}', rich: supRich(17), align: 'center', verticalAlign: 'middle' } },
  // B legend
  swatch(465, 111, '#E0E0E0', '#222'), swatch(465, 135, '#808080', '#222'),
  label(489, 120, 'genes with unannotated splicing', 23), label(489, 144, 'genes with only annotated splicing', 23),
  // C annotations
  label(1340, 111, 'telomere', 23), label(1340, 138, 'maintenance', 23), leader(1320, 121, 1337, 117), leader(1343, 158, 1353, 149),
  label(1352, 182, 'carbohydrate', 23), label(1352, 210, 'catabolism', 23), leader(1315, 183, 1346, 183),
  label(1335, 287, 'B cell homeostasis', 22), leader(1420, 300, 1432, 317),
  // D colour bar title
  label(510, 558, 'Proportion', 23, 'center'), label(510, 587, 'shared', 23, 'center'),
  // E legend
  swatch(688, 1009, sjColors[3]), label(715, 1019, sjNames[3], 23),
  swatch(688, 1034, sjColors[2]), label(715, 1044, sjNames[2], 23),
  swatch(1050, 1009, sjColors[1]), label(1077, 1019, sjNames[1], 23),
  swatch(1050, 1034, sjColors[0]), label(1077, 1044, sjNames[0], 23),
  // sashimi gene names
  label(1538, 666, geneNames[0], 22, 'center', Math.PI / 2),
  label(1538, 782, geneNames[1], 22, 'center', Math.PI / 2),
  label(1538, 897, geneNames[2], 22, 'center', Math.PI / 2)
];

chart.setOption({
  animation: false,
  backgroundColor: '#ffffff',
  textStyle: { fontFamily: FONT },
  grid: grids,
  xAxis: xAxes,
  yAxis: yAxes,
  series: series,
  graphic: graphics
});
</script>
</body>
</html>
